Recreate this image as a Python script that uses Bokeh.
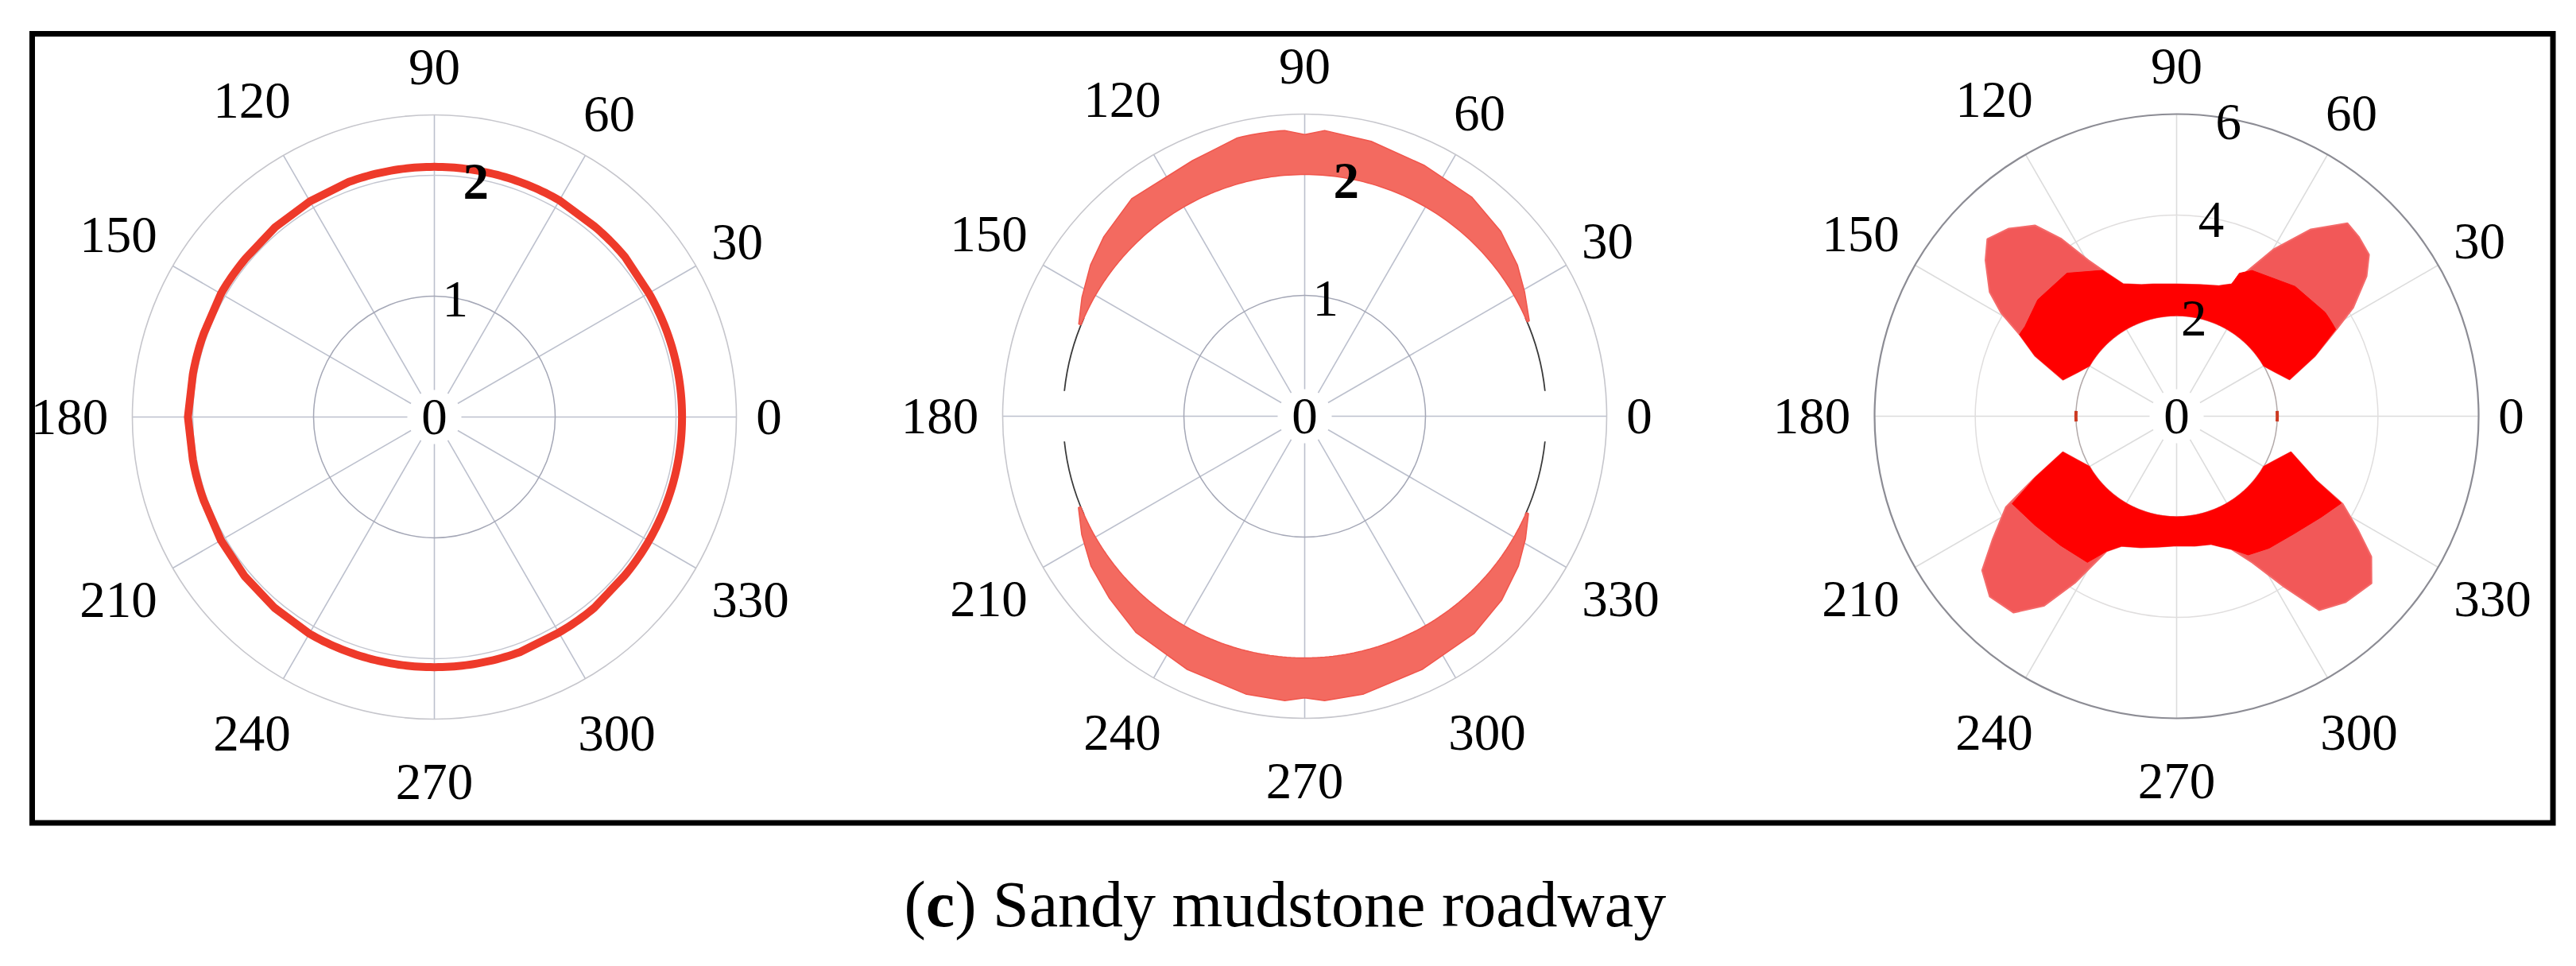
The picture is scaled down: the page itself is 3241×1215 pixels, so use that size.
import numpy as np
from bokeh.plotting import figure
from bokeh.models import Range1d
from bokeh.embed import file_html
from bokeh.resources import INLINE
from bokeh.core.properties import value

# ---------------- data ----------------
angle_ticks = [0, 30, 60, 90, 120, 150, 180, 210, 240, 270, 300, 330]
angle_labels = ["0", "30", "60", "90", "120", "150", "180", "210", "240", "270", "300", "330"]

radial_ticks_ab = [0, 1, 2]          # panels 1 and 2
radial_labels_ab = ["0", "1", "2"]
radial_max_ab = 2.5
radial_ticks_c = [0, 2, 4, 6]        # panel 3
radial_labels_c = ["0", "2", "4", "6"]
radial_max_c = 6.0

# panel 1 : thin failure ring (radius vs angle)
ring_theta = [0, 10, 20, 30, 40, 50, 60, 70, 80, 90, 100, 110, 120, 130, 140, 150, 160, 170,
              180, 190, 200, 210, 220, 230, 240, 250, 260, 270, 280, 290, 300, 310, 320, 330, 340, 350, 360]
ring_r = [2.05, 2.05, 2.05, 2.05, 2.06, 2.06, 2.07, 2.07, 2.07, 2.07, 2.07, 2.07, 2.06, 2.05, 2.04, 2.04, 2.03, 2.03,
          2.04, 2.03, 2.03, 2.04, 2.05, 2.06, 2.07, 2.07, 2.07, 2.07, 2.07, 2.07, 2.06, 2.06, 2.05, 2.05, 2.05, 2.05, 2.05]

# panel 2 : failure band between r = 2 and an outer boundary
band_inner_r = 2.0
band_up_theta = [23.0, 29.4, 35.4, 43.3, 52.6, 64.6, 76.4, 86.0, 90.0, 94.0, 103.6, 113.7, 128.5, 138.2, 144.8, 151.9, 157.8]
band_up_r = [2.02, 2.09, 2.16, 2.23, 2.28, 2.30, 2.34, 2.37, 2.33, 2.37, 2.37, 2.31, 2.30, 2.23, 2.17, 2.09, 2.02]
band_lo_theta = [202.0, 208.0, 215.0, 223.0, 232.0, 245.0, 258.0, 266.0, 270.0, 274.0, 282.0, 295.0, 308.0, 317.0, 325.0, 331.0, 336.5]
band_lo_r = [2.02, 2.09, 2.16, 2.21, 2.27, 2.31, 2.35, 2.36, 2.33, 2.36, 2.35, 2.31, 2.28, 2.23, 2.16, 2.09, 2.02]
band_edge_arcs = [(6, 24), (156, 174), (186, 204), (336, 354)]

# panel 3 : butterfly-shaped failure zone, upper and lower lobes
lobe_up_theta = [18.0, 23.5, 28.6, 31.5, 36.4, 40.0, 44.6, 48.5, 54.3, 59.8, 64.0, 67.4, 72.0, 80.0, 90.0,
                 100.0, 105.0, 112.0, 116.0, 119.5, 123.0, 126.6, 131.8, 136.9, 140.8, 146.4, 149.5, 152.5, 156.9, 162.2]
lobe_up_r = [2.36, 3.00, 3.63, 4.11, 4.69, 4.99, 5.08, 5.12, 4.57, 3.84, 3.21, 2.84, 2.72, 2.65, 2.62,
             2.66, 2.70, 2.83, 3.16, 3.56, 4.20, 4.72, 5.00, 5.15, 4.90, 4.46, 4.05, 3.52, 3.06, 2.37]
lobe_up_core_theta = [18.0, 23.5, 28.6, 35.0, 47.6, 62.6, 66.3, 67.4, 72.0, 80.0, 90.0,
                      100.0, 105.0, 112.0, 117.0, 127.5, 140.0, 149.4, 152.5, 156.9, 162.2]
lobe_up_core_r = [2.36, 3.00, 3.60, 3.60, 3.49, 3.26, 3.10, 2.84, 2.72, 2.65, 2.62,
                  2.66, 2.70, 2.83, 3.25, 3.58, 3.60, 3.50, 3.52, 3.06, 2.37]
lobe_up_in_theta = [162.2, 156.0, 150.0, 30.0, 24.0, 18.0]
lobe_up_in_r = [2.37, 2.15, 2.0, 2.0, 2.15, 2.36]

lobe_lo_theta = [197.5, 203.4, 208.0, 213.7, 218.4, 224.0, 230.3, 235.0, 238.6, 242.6, 247.0, 254.7, 262.0, 270.0,
                 278.0, 285.0, 292.5, 297.3, 302.2, 306.3, 312.2, 319.4, 324.2, 327.8, 332.2, 335.4, 342.6]
lobe_lo_r = [2.37, 3.06, 3.84, 4.39, 4.93, 5.16, 5.07, 4.60, 3.88, 3.02, 2.80, 2.70, 2.62, 2.57,
             2.60, 2.63, 2.86, 3.27, 4.00, 4.78, 4.99, 5.10, 4.77, 4.27, 3.73, 3.04, 2.38]
lobe_lo_core_theta = [197.5, 203.4, 208.0, 217.6, 228.0, 238.6, 242.6, 247.0, 254.7, 262.0, 270.0,
                      278.0, 285.0, 292.5, 297.3, 305.0, 315.0, 325.0, 332.2, 335.4, 342.6]
lobe_lo_core_r = [2.37, 3.06, 3.70, 3.55, 3.45, 3.40, 3.02, 2.80, 2.70, 2.62, 2.57,
                  2.60, 2.63, 2.86, 3.10, 3.20, 3.30, 3.50, 3.70, 3.04, 2.38]
lobe_lo_in_theta = [342.6, 336.0, 330.0, 210.0, 204.0, 197.5]
lobe_lo_in_r = [2.38, 2.15, 2.0, 2.0, 2.15, 2.37]
hole_marks_theta = [0, 180]
hole_marks_r = [2.0, 2.0]

caption_parts = ["(", "c", ") Sandy mudstone roadway"]

# ---------------- layout ----------------
W, H = 3238, 1212
PAGE = 1215


def Y(ref_y):
    return PAGE - ref_y


PANELS = [
    (546.0, Y(524.0), 380.0 / radial_max_ab),
    (1641.0, Y(523.0), 380.0 / radial_max_ab),
    (2738.0, Y(523.0), 380.0 / radial_max_c),
]
FONT = value("Liberation Serif")

p = figure(width=W, height=H, x_range=Range1d(0, W), y_range=Range1d(PAGE - H, PAGE),
           output_backend="svg", toolbar_location=None, min_border=0,
           x_axis_location=None, y_axis_location=None)
p.grid.visible = False
p.outline_line_color = None
p.background_fill_color = "white"
p.border_fill_color = "white"


def trace(thetas, rs):
    tt, rr = [], []
    for i in range(len(thetas)):
        if i > 0 and rs[i] == rs[i - 1] and thetas[i] != thetas[i - 1]:
            n = int(abs(thetas[i] - thetas[i - 1])) + 2
            mid = np.linspace(thetas[i - 1], thetas[i], n)[1:-1]
            tt.extend(mid)
            rr.extend([rs[i]] * len(mid))
        tt.append(thetas[i])
        rr.append(rs[i])
    return np.array(tt), np.array(rr)


def to_xy(panel, thetas, rs):
    cx, cy, k = PANELS[panel]
    t = np.radians(np.asarray(thetas, dtype=float))
    r = np.asarray(rs, dtype=float)
    return cx + r * k * np.cos(t), cy + r * k * np.sin(t)


def draw_grid(panel, rmax, circle_vals, circle_colors, outer_color, outer_w, spoke_color):
    cx, cy, k = PANELS[panel]
    t = np.radians(angle_ticks)
    r0 = 34.0
    p.segment(x0=cx + r0 * np.cos(t), y0=cy + r0 * np.sin(t),
              x1=cx + rmax * k * np.cos(t), y1=cy + rmax * k * np.sin(t),
              line_color=spoke_color, line_width=1.6)
    for v, c in zip(circle_vals, circle_colors):
        p.circle(x=[cx], y=[cy], radius=v * k, fill_color=None, line_color=c, line_width=1.5)
    p.circle(x=[cx], y=[cy], radius=rmax * k, fill_color=None, line_color=outer_color, line_width=outer_w)


def draw_angle_labels(panel):
    cx, cy, k = PANELS[panel]
    fs = 65
    xs, ys = [], []
    for a, lab in zip(angle_ticks, angle_labels):
        rc = 402 + 19 * len(lab)
        t = np.radians(a)
        xs.append(cx + rc * np.cos(t))
        ys.append(cy + rc * np.sin(t))
    p.text(x=xs, y=ys, text=angle_labels, text_font=FONT, text_font_size=f"{fs}px",
           text_align="center", text_baseline="middle", text_color="black")


def draw_radial_labels(panel, ticks, labels, bold_labels=()):
    cx, cy, k = PANELS[panel]
    fs = 65
    t = np.radians(80)
    for v, lab in zip(ticks, labels):
        rr = 0.99 * v * k
        x = cx + rr * np.cos(t)
        y = cy + rr * np.sin(t)
        p.text(x=[x], y=[y], text=[lab], text_font=FONT, text_font_size=f"{fs}px",
               text_align="center", text_baseline="middle", text_color="black",
               text_font_style="bold" if lab in bold_labels else "normal")


# ---------- panel 1 ----------
draw_grid(0, radial_max_ab, [1, 2], ["#a4a7b6", "#c4c6d0"], "#c6c6cc", 1.6, "#bcc0cd")
rt, rr = trace(ring_theta, ring_r)
x1, y1 = to_xy(0, rt, rr)
p.line(x1, y1, line_color="#ee3a2a", line_width=10, line_join="round")
draw_angle_labels(0)
draw_radial_labels(0, radial_ticks_ab, radial_labels_ab, bold_labels=("2",))

# ---------- panel 2 ----------
draw_grid(1, radial_max_ab, [1], ["#a4a7b6"], "#c6c6cc", 1.6, "#bcc0cd")
cx2, cy2, k2 = PANELS[1]
for a0, a1 in band_edge_arcs:
    p.arc(x=[cx2], y=[cy2], radius=band_inner_r * k2, start_angle=a0, end_angle=a1,
          start_angle_units="deg", end_angle_units="deg", line_color="#3a3a3a", line_width=1.8)
for th, rv in ((band_up_theta, band_up_r), (band_lo_theta, band_lo_r)):
    tt, rr = trace(list(th) + [th[-1], th[0]], list(rv) + [band_inner_r, band_inner_r])
    xb, yb = to_xy(1, tt, rr)
    p.patch(xb, yb, fill_color="#f36a60", line_color="#f0564c", line_width=1.5)
draw_angle_labels(1)
draw_radial_labels(1, radial_ticks_ab, radial_labels_ab, bold_labels=("2",))

# ---------- panel 3 ----------
draw_grid(2, radial_max_c, [2, 4], ["#b3aaaa", "#e0dede"], "#8c8c94", 2.2, "#dcdcdc")
for (ot, orr, ct, crr, it, ir) in (
        (lobe_up_theta, lobe_up_r, lobe_up_core_theta, lobe_up_core_r, lobe_up_in_theta, lobe_up_in_r),
        (lobe_lo_theta, lobe_lo_r, lobe_lo_core_theta, lobe_lo_core_r, lobe_lo_in_theta, lobe_lo_in_r)):
    tt, rr = trace(list(ot) + list(it), list(orr) + list(ir))
    xo, yo = to_xy(2, tt, rr)
    p.patch(xo, yo, fill_color="#f25858", line_color="#f46a6a", line_width=2)
    tt, rr = trace(list(ct) + list(it), list(crr) + list(ir))
    xc, yc = to_xy(2, tt, rr)
    p.patch(xc, yc, fill_color="#ff0000", line_color="#ff0000", line_width=1)
cx3, cy3, k3 = PANELS[2]
for a, rv in zip(hole_marks_theta, hole_marks_r):
    p.arc(x=[cx3], y=[cy3], radius=rv * k3, start_angle=a - 3, end_angle=a + 3,
          start_angle_units="deg", end_angle_units="deg", line_color="#cc3a22", line_width=4)
draw_angle_labels(2)
draw_radial_labels(2, radial_ticks_c, radial_labels_c)

# ---------- frame box ----------
p.quad(left=[40.0], right=[3211.5], top=[Y(42.0)], bottom=[Y(1034.5)],
       fill_color=None, line_color="black", line_width=7, line_join="miter")

# ---------- caption ----------
cfs = 82
cap_x = [1137.0, 1137.0 + 0.333 * cfs, 1137.0 + 0.333 * cfs + 0.444 * cfs]
cap_styles = ["normal", "bold", "normal"]
for x, t, s in zip(cap_x, caption_parts, cap_styles):
    p.text(x=[x], y=[Y(1165.0 - 0.338 * cfs)], text=[t], text_font=FONT, text_font_size=f"{cfs}px",
           text_align="left", text_baseline="middle", text_color="black", text_font_style=s)

open("out.html", "w").write(file_html(p, INLINE))
